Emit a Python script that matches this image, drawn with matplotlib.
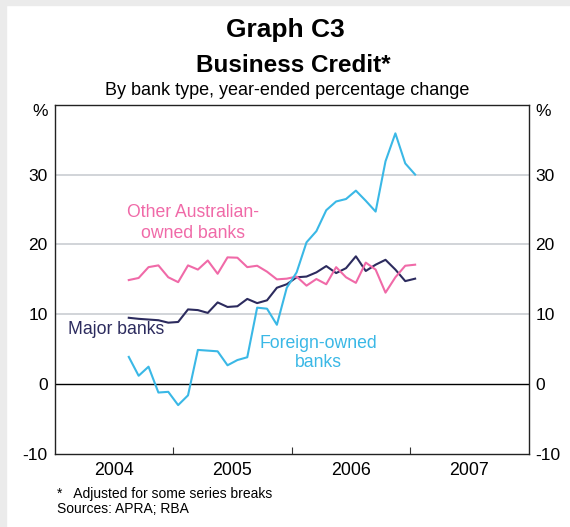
import matplotlib.pyplot as plt
import matplotlib.patches as patches
import pandas as pd

plt.rcParams['font.family'] = ['Liberation Sans', 'DejaVu Sans']

# monthly observations, Aug 2004 - Jan 2007
months = pd.date_range('2004-08-01', periods=30, freq='MS')

major = [9.5, 9.35, 9.25, 9.15, 8.8, 8.9, 10.7, 10.6, 10.2, 11.7,
         11.05, 11.15, 12.2, 11.6, 12.0, 13.8, 14.3, 15.3, 15.4, 16.0,
         16.9, 15.9, 16.6, 18.3, 16.2, 17.1, 17.8, 16.4, 14.75, 15.1]
other_aus = [14.9, 15.2, 16.75, 17.0, 15.3, 14.6, 17.0, 16.4, 17.7, 15.8,
             18.15, 18.1, 16.75, 16.95, 16.1, 15.0, 15.1, 15.4, 14.1, 15.05,
             14.3, 16.75, 15.3, 14.5, 17.4, 16.4, 13.1, 15.3, 16.95, 17.1]
foreign = [3.9, 1.2, 2.5, -1.2, -1.1, -3.0, -1.6, 4.9, 4.8, 4.7,
           2.7, 3.45, 3.85, 10.95, 10.8, 8.5, 13.8, 16.0, 20.3, 21.9,
           24.9, 26.15, 26.5, 27.7, 26.25, 24.7, 31.9, 35.9, 31.6, 30.0]

year_labels = ['2004', '2005', '2006', '2007']
y_ticks = [-10, 0, 10, 20, 30]

NAVY = '#2c2b5e'
PINK = '#f06aa8'
SKY = '#3ab8e6'

x = months.year + (months.month - 0.5) / 12

fig = plt.figure(figsize=(5.7, 5.27), dpi=100)
fig.patches.append(patches.Rectangle((0, 0), 6 / 570, 1, transform=fig.transFigure,
                                     color='#ebebeb', zorder=0))
fig.patches.append(patches.Rectangle((0, 1 - 5 / 527), 1, 5 / 527, transform=fig.transFigure,
                                     color='#ebebeb', zorder=0))
ax = fig.add_axes([0.096, 0.1385, 0.8315, 0.6628])

for v in y_ticks[2:]:
    ax.axhline(v, color='#c9cdd2', lw=1.2, zorder=1)
ax.axhline(0, color='black', lw=1.0, zorder=1)

ax.plot(x, major, color=NAVY, lw=1.5, zorder=3)
ax.plot(x, other_aus, color=PINK, lw=1.5, zorder=3)
ax.plot(x, foreign, color=SKY, lw=1.5, zorder=3)

ax.set_xlim(2004, 2008)
ax.set_ylim(-10, 40)
ax.set_xticks([2005, 2006, 2007])
ax.set_xticklabels([])
ax.tick_params(axis='x', direction='in', length=5, width=0.8, color='#333333')
ax.set_yticks(y_ticks)
ax.set_yticklabels([str(v) for v in y_ticks], fontsize=12.5)
ax.tick_params(axis='y', length=0, pad=5, labelright=True, labelleft=True)
for i, lab in enumerate(year_labels):
    ax.text(2004.5 + i, -11.1, lab, ha='center', va='top', fontsize=12.8)
for s in ax.spines.values():
    s.set_linewidth(1.0)
    s.set_color('#222222')

fig.text(40 / 570, 1 - 112 / 527, '%', ha='center', va='center', fontsize=12.5)
fig.text(543 / 570, 1 - 112 / 527, '%', ha='center', va='center', fontsize=12.5)

ax.text(2004.0 + (193 - 54.7) / 118.5, 40 - (224 - 104.7) / 7.02, 'Other Australian-\nowned banks',
        color=PINK, ha='center', va='center', fontsize=12.7, linespacing=1.3)
ax.text(2004.0 + (116.5 - 54.7) / 118.5, 40 - (331 - 104.7) / 7.02, 'Major banks',
        color=NAVY, ha='center', va='center', fontsize=12.7)
ax.text(2004.0 + (318 - 54.7) / 118.5, 40 - (354 - 104.7) / 7.02, 'Foreign-owned\nbanks',
        color=SKY, ha='center', va='center', fontsize=12.7, linespacing=1.2)

fig.text(0.5, 1 - 30 / 527, 'Graph C3', ha='center', va='center', fontsize=19, fontweight='bold')
fig.text(0.514, 1 - 66 / 527, 'Business Credit*', ha='center', va='center', fontsize=17.5, fontweight='bold')
fig.text(0.503, 1 - 91 / 527, 'By bank type, year-ended percentage change', ha='center', va='center',
         fontsize=13)

fig.text(57 / 570, 1 - 494 / 527, '*   Adjusted for some series breaks', ha='left', va='center', fontsize=10)
fig.text(57 / 570, 1 - 509 / 527, 'Sources: APRA; RBA', ha='left', va='center', fontsize=10)

fig.savefig('out.png', dpi=100)
